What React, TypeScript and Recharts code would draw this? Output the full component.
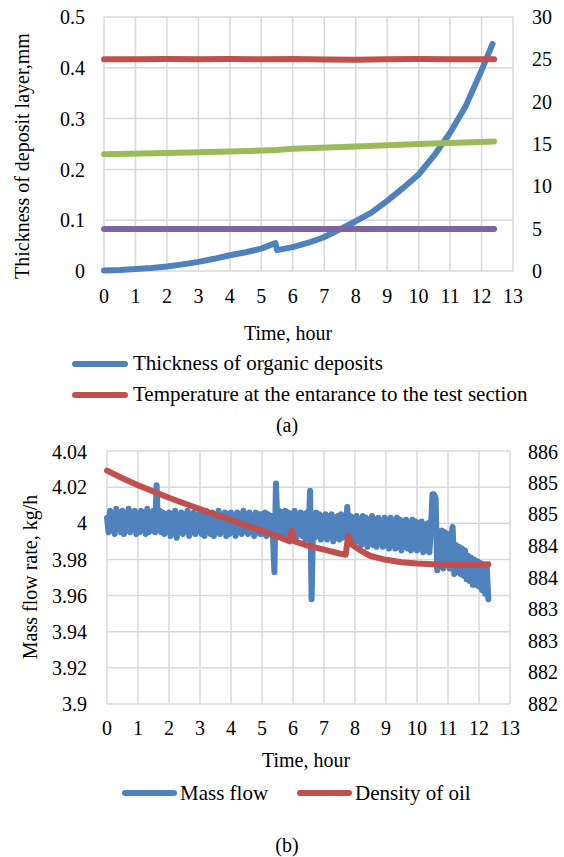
import { LineChart, Line, XAxis, YAxis, CartesianGrid, Legend } from 'recharts';

const FONT = "'Liberation Serif', 'DejaVu Serif', serif";
const BLUE = '#4F81BD';
const RED = '#C0504D';
const GREEN = '#9BBB59';
const PURPLE = '#8064A2';
const GRID = '#D9D9D9';

const HOURS = [0, 1, 2, 3, 4, 5, 6, 7, 8, 9, 10, 11, 12, 13];
const THICK_TICKS = [0, 0.1, 0.2, 0.3, 0.4, 0.5];
const TEMP_TICKS = [0, 5, 10, 15, 20, 25, 30];
const FLOW_TICKS = [3.9, 3.92, 3.94, 3.96, 3.98, 4, 4.02, 4.04];
const DENSITY_TICKS = [882, 882.5, 883, 883.5, 884, 884.5, 885, 885.5, 886];

const LEGEND_A = ['Thickness of organic deposits', 'Temperature at the entarance to the test section'];
const LEGEND_B = ['Mass flow', 'Density of oil'];

// (a) thickness of organic deposits, mm  [hour, value]
const thickness: [number, number][] = [
  [0, 0.001], [0.5, 0.002], [1, 0.004], [1.5, 0.006], [2, 0.009], [2.5, 0.013],
  [3, 0.018], [3.5, 0.024], [4, 0.031], [4.5, 0.037], [5, 0.044], [5.45, 0.055],
  [5.5, 0.041], [6, 0.047], [6.5, 0.056], [6.8, 0.062], [7, 0.067], [7.5, 0.082],
  [8, 0.098], [8.5, 0.115], [9, 0.138], [9.5, 0.163], [10, 0.19], [10.5, 0.228],
  [11, 0.272], [11.5, 0.325], [12, 0.395], [12.35, 0.447],
];

// (a) temperature at the entrance, right axis
const inletTemp: [number, number][] = [
  [0, 25.0], [1, 25.02], [2, 25.05], [3, 25.0], [4, 25.03], [5, 25.0], [6, 25.04],
  [7, 24.98], [8, 24.95], [9, 25.02], [10, 25.03], [11, 25.0], [12, 25.0], [12.4, 25.0],
];

// (a) other two series (not in legend), right axis
const tempGreen: [number, number][] = [
  [0, 13.8], [2, 13.95], [4, 14.1], [5.5, 14.3], [6, 14.45], [8, 14.7], [10, 15.0], [12.4, 15.3],
];
const tempPurple: [number, number][] = [[0, 4.95], [6, 4.95], [12.4, 4.95]];

// (b) mass flow, kg/h, one reading every 0.05 h starting at 0
const MASS_STEP = 0.05;
const massFlow = [
  // 0 - 1 h
  4.003, 3.995, 4.007, 3.996, 4.005, 3.994, 4.008, 3.997, 4.006, 3.995,
  4.007, 3.994, 4.005, 3.996, 4.008, 3.995, 4.006, 3.997, 4.007, 3.994,
  // 1 - 2 h
  4.005, 3.995, 4.007, 3.996, 4.006, 3.994, 4.008, 3.995, 4.005, 3.996,
  4.007, 3.995, 4.021, 3.997, 4.007, 3.995, 4.006, 3.994, 4.005, 3.996,
  // 2 - 3 h
  4.006, 3.993, 4.005, 3.995, 4.007, 3.992, 4.004, 3.995, 4.006, 3.994,
  4.005, 3.996, 4.007, 3.993, 4.005, 3.995, 4.006, 3.994, 4.004, 3.996,
  // 3 - 4 h
  4.006, 3.994, 4.005, 3.993, 4.007, 3.995, 4.004, 3.994, 4.006, 3.993,
  4.005, 3.995, 4.007, 3.994, 4.004, 3.996, 4.006, 3.993, 4.005, 3.994,
  // 4 - 5 h
  4.006, 3.995, 4.004, 3.993, 4.006, 3.995, 4.005, 3.994, 4.007, 3.996,
  4.005, 3.994, 4.006, 3.995, 4.004, 3.993, 4.006, 3.995, 4.005, 3.994,
  // 5 - 6 h
  4.005, 3.994, 4.006, 3.993, 4.005, 3.995, 4.004, 3.993, 3.973, 4.022,
  3.998, 4.007, 3.994, 4.006, 3.992, 4.007, 3.995, 4.006, 3.993, 4.005,
  // 6 - 7 h
  3.994, 4.007, 3.992, 4.005, 3.994, 4.006, 3.993, 4.005, 3.991, 4.006,
  3.994, 4.018, 3.958, 4.001, 3.992, 4.006, 3.993, 4.005, 3.991, 4.004,
  // 7 - 8 h
  3.992, 4.005, 3.991, 4.004, 3.993, 4.005, 3.99, 4.003, 3.992, 4.004,
  3.991, 4.005, 3.992, 4.003, 3.993, 4.009, 3.991, 4.004, 3.99, 4.003,
  // 8 - 9 h
  3.989, 4.004, 3.99, 4.002, 3.988, 4.004, 3.99, 4.003, 3.987, 4.002,
  3.989, 4.004, 3.988, 4.002, 3.987, 4.003, 3.989, 4.001, 3.987, 4.003,
  // 9 - 10 h
  3.988, 4.002, 3.986, 4.003, 3.988, 4.001, 3.986, 4.003, 3.987, 4.002,
  3.985, 4.001, 3.987, 4.002, 3.986, 4.0, 3.985, 4.002, 3.986, 4.001,
  // 10 - 11 h
  3.985, 4.0, 3.986, 4.001, 3.984, 3.999, 3.985, 4.0, 3.984, 3.998,
  4.016, 4.016, 4.014, 3.974, 3.995, 3.976, 3.996, 3.975, 3.995, 3.977,
  // 11 - 12 h
  3.994, 3.975, 3.993, 3.998, 3.972, 3.988, 3.973, 3.987, 3.972, 3.986,
  3.971, 3.985, 3.969, 3.982, 3.968, 3.981, 3.966, 3.98, 3.966, 3.979,
  // 12 - 12.3 h
  3.965, 3.978, 3.963, 3.977, 3.961, 3.976, 3.958,
];

// (b) density of oil, right axis  [hour, value]
const density: [number, number][] = [
  [0, 885.69], [0.5, 885.57], [1, 885.46], [1.5, 885.36], [2, 885.26], [2.5, 885.17],
  [3, 885.08], [3.5, 884.99], [4, 884.91], [4.5, 884.82], [5, 884.74], [5.5, 884.65],
  [5.9, 884.57], [5.95, 884.74], [6.05, 884.57], [6.5, 884.5], [7, 884.44], [7.5, 884.38],
  [7.7, 884.36], [7.78, 884.66], [7.9, 884.52], [8.2, 884.42], [8.5, 884.34], [9, 884.28],
  [9.5, 884.24], [10, 884.22], [10.5, 884.21], [11, 884.2], [11.5, 884.2], [12, 884.2],
  [12.3, 884.21],
];

const pts = (arr: [number, number][]) => arr.map(([x, y]) => ({ x, y }));
const massPts = massFlow.map((y, i) => ({ x: +(i * MASS_STEP).toFixed(2), y }));

const tickStyle = { fontSize: 20, fill: '#000', fontFamily: FONT };

const ordered = (payload: any[] | undefined, order: string[]) =>
  order.map((name) => (payload || []).find((p: any) => p.value === name)).filter(Boolean);

function LegendA({ payload }: any) {
  return (
    <div style={{ paddingLeft: 69, fontFamily: FONT, fontSize: 21, color: '#000' }}>
      {ordered(payload, LEGEND_A).map((p: any) => (
        <div key={p.value} style={{ display: 'flex', alignItems: 'center', height: 31 }}>
          <svg width={64} height={8} style={{ display: 'block' }}>
            <line x1={6} y1={4} x2={56} y2={4} stroke={p.color} strokeWidth={6} strokeLinecap="round" />
          </svg>
          <span style={{ lineHeight: '31px', whiteSpace: 'nowrap' }}>{p.value}</span>
        </div>
      ))}
    </div>
  );
}

function LegendB({ payload }: any) {
  return (
    <div style={{ paddingLeft: 119, fontFamily: FONT, fontSize: 21, color: '#000', display: 'flex', alignItems: 'center', height: 30 }}>
      {ordered(payload, LEGEND_B).map((p: any, i: number) => (
        <div key={p.value} style={{ display: 'flex', alignItems: 'center', marginRight: i === 0 ? 26 : 0 }}>
          <svg width={61} height={8} style={{ display: 'block' }}>
            <line x1={6} y1={4} x2={55} y2={4} stroke={p.color} strokeWidth={6} strokeLinecap="round" />
          </svg>
          <span style={{ whiteSpace: 'nowrap' }}>{p.value}</span>
        </div>
      ))}
    </div>
  );
}

const title = (text: string, x: number, y: number, rotate = false) => () => (
  <text
    x={x}
    y={y}
    fontSize={20}
    fontFamily={FONT}
    fill="#000"
    textAnchor="middle"
    transform={rotate ? `rotate(-90 ${x} ${y})` : undefined}
  >
    {text}
  </text>
);

export default function App() {
  return (
    <div style={{ position: 'absolute', left: 0, top: 0, width: 564, height: 857, background: '#fff', fontFamily: FONT }}>
      <div style={{ position: 'absolute', left: 0, top: 0 }}>
        <LineChart width={564} height={440} margin={{ top: 17, right: 0, bottom: 99, left: 0 }}>
          <CartesianGrid stroke={GRID} strokeWidth={1.5} yAxisId="left" />
          <XAxis
            dataKey="x"
            type="number"
            domain={[0, 13]}
            ticks={HOURS}
            interval={0}
            height={70}
            axisLine={false}
            tickLine={false}
            tickSize={0}
            tickMargin={18}
            tick={tickStyle}
            allowDuplicatedCategory={false}
            label={{ content: title('Time, hour', 288, 340) }}
          />
          <YAxis
            yAxisId="left"
            domain={[0, 0.5]}
            ticks={THICK_TICKS}
            width={104}
            axisLine={false}
            tickLine={false}
            tickSize={0}
            tickMargin={19}
            tick={tickStyle}
            label={{ content: title('Thickness of deposit layer,mm', 29, 156, true) }}
          />
          <YAxis
            yAxisId="right"
            orientation="right"
            domain={[0, 30]}
            ticks={TEMP_TICKS}
            width={51}
            axisLine={false}
            tickLine={false}
            tickSize={0}
            tickMargin={19}
            tick={tickStyle}
          />
          <Legend
            layout="horizontal"
            verticalAlign="middle"
            align="center"
            wrapperStyle={{ top: 348, left: 0, width: 564 }}
            content={<LegendA />}
          />
          <Line yAxisId="left" data={pts(thickness)} dataKey="y" name={LEGEND_A[0]} stroke={BLUE} strokeWidth={6} dot={false} isAnimationActive={false} strokeLinecap="round" strokeLinejoin="round" />
          <Line yAxisId="right" data={pts(inletTemp)} dataKey="y" name={LEGEND_A[1]} stroke={RED} strokeWidth={6} dot={false} isAnimationActive={false} strokeLinecap="round" strokeLinejoin="round" />
          <Line yAxisId="right" data={pts(tempGreen)} dataKey="y" name="Temperature 2" legendType="none" stroke={GREEN} strokeWidth={6} dot={false} isAnimationActive={false} strokeLinecap="round" strokeLinejoin="round" />
          <Line yAxisId="right" data={pts(tempPurple)} dataKey="y" name="Temperature 3" legendType="none" stroke={PURPLE} strokeWidth={6} dot={false} isAnimationActive={false} strokeLinecap="round" strokeLinejoin="round" />
        </LineChart>
      </div>
      <div style={{ position: 'absolute', left: 0, top: 412, width: 574, textAlign: 'center', fontSize: 20, lineHeight: '26px', color: '#000' }}>(a)</div>

      <div style={{ position: 'absolute', left: 0, top: 440 }}>
        <LineChart width={564} height={417} margin={{ top: 11, right: 0, bottom: 89, left: 0 }}>
          <CartesianGrid stroke={GRID} strokeWidth={1.5} yAxisId="left" />
          <XAxis
            dataKey="x"
            type="number"
            domain={[0, 13]}
            ticks={HOURS}
            interval={0}
            height={64}
            axisLine={false}
            tickLine={false}
            tickSize={0}
            tickMargin={17}
            tick={tickStyle}
            allowDuplicatedCategory={false}
            label={{ content: title('Time, hour', 306, 327) }}
          />
          <YAxis
            yAxisId="left"
            domain={[3.9, 4.04]}
            ticks={FLOW_TICKS}
            width={107}
            axisLine={false}
            tickLine={false}
            tickSize={0}
            tickMargin={20}
            tick={tickStyle}
            tickFormatter={(v: number) => String(Number(v.toFixed(2)))}
            label={{ content: title('Mass flow rate, kg/h', 37, 137, true) }}
          />
          <YAxis
            yAxisId="right"
            orientation="right"
            domain={[882, 886]}
            ticks={DENSITY_TICKS}
            width={54}
            axisLine={false}
            tickLine={false}
            tickSize={0}
            tickMargin={18}
            tick={tickStyle}
            tickFormatter={(v: number) => String(Math.floor(v))}
          />
          <Legend
            layout="horizontal"
            verticalAlign="middle"
            align="center"
            wrapperStyle={{ top: 338, left: 0, width: 564 }}
            content={<LegendB />}
          />
          <Line yAxisId="left" data={massPts} dataKey="y" name={LEGEND_B[0]} stroke={BLUE} strokeWidth={6} dot={false} isAnimationActive={false} strokeLinecap="round" strokeLinejoin="round" />
          <Line yAxisId="right" data={pts(density)} dataKey="y" name={LEGEND_B[1]} stroke={RED} strokeWidth={6} dot={false} isAnimationActive={false} strokeLinecap="round" strokeLinejoin="round" />
        </LineChart>
      </div>
      <div style={{ position: 'absolute', left: 0, top: 832, width: 574, textAlign: 'center', fontSize: 20, lineHeight: '26px', color: '#000' }}>(b)</div>
    </div>
  );
}
